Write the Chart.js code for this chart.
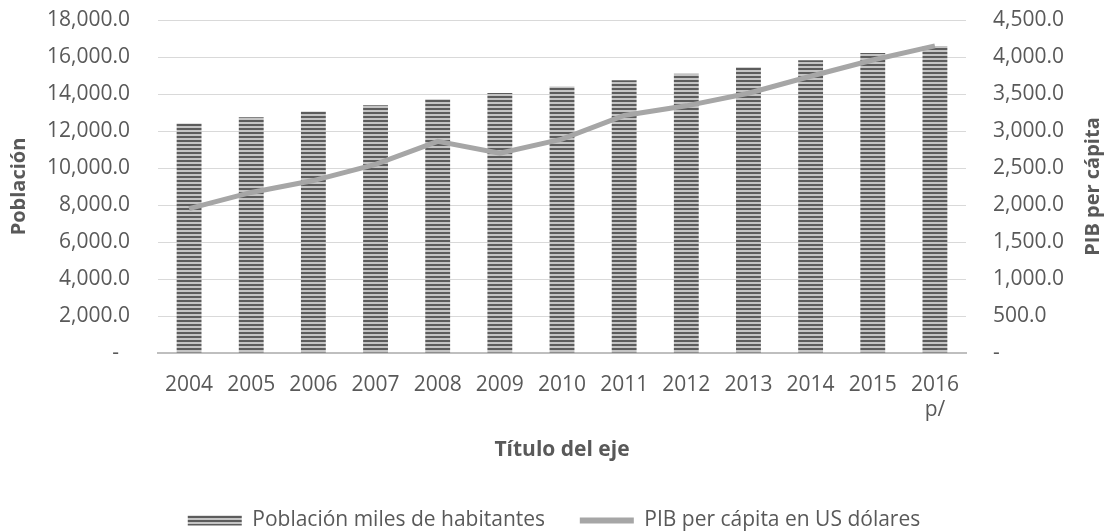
<!DOCTYPE html>
<html>
<head>
<meta charset="utf-8">
<script src="https://cdn.jsdelivr.net/npm/chart.js@4/dist/chart.umd.min.js"></script>
<style>
  html, body { margin: 0; padding: 0; background: #fff; }
  #wrap { width: 1108px; height: 531px; }
</style>
</head>
<body>
<div id="wrap"><canvas id="chart" width="1108" height="531"></canvas></div>
<script>
  // Años (el último es preliminar)
  const YEARS = ['2004', '2005', '2006', '2007', '2008', '2009', '2010', '2011', '2012', '2013', '2014', '2015', ['2016', 'p/']];

  // Población, miles de habitantes (eje izquierdo)
  const POBLACION = [12410, 12740, 13060, 13390, 13720, 14050, 14400, 14750, 15100, 15450, 15820, 16210, 16590];

  // PIB per cápita en US dólares (eje derecho)
  const PIB_PC = [1950, 2170, 2330, 2550, 2860, 2700, 2890, 3210, 3340, 3510, 3740, 3960, 4150];

  const TEXT = '#595959';
  const FONT = "'Open Sans', sans-serif";
  const LINE_GRAY = '#a6a6a6';

  // striped fill used by the population bars
  function stripes() {
    const c = document.createElement('canvas');
    c.width = 4; c.height = 4;
    const g = c.getContext('2d');
    g.fillStyle = '#c4c4c4';
    g.fillRect(0, 0, 4, 4);
    g.fillStyle = '#5c5c5c';
    g.fillRect(0, 0, 4, 2);
    return g.createPattern(c, 'repeat');
  }
  const STRIPES = stripes();

  const fmt = v => v.toLocaleString('en-US', { minimumFractionDigits: 1, maximumFractionDigits: 1 });

  // right axis title reads bottom-to-top, like the left one
  const rightTitle = {
    id: 'rightTitle',
    afterDraw(chart) {
      const s = chart.scales.y1;
      const ctx = chart.ctx;
      ctx.save();
      ctx.translate(s.right - 15, (chart.chartArea.top + chart.chartArea.bottom) / 2);
      ctx.rotate(-Math.PI / 2);
      ctx.font = 'bold 20px ' + FONT;
      ctx.fillStyle = TEXT;
      ctx.textAlign = 'center';
      ctx.textBaseline = 'middle';
      ctx.fillText('PIB per cápita', 0, 0);
      ctx.restore();
    }
  };

  // push the legend down towards the bottom edge
  const legendDown = {
    id: 'legendDown',
    afterLayout(chart) {
      chart.legend.top += 10;
      chart.legend.bottom += 10;
    }
  };

  const noPad = s => { s.paddingTop = 0; s.paddingBottom = 0; };

  new Chart(document.getElementById('chart'), {
    data: {
      labels: YEARS,
      datasets: [
        {
          type: 'line',
          label: 'PIB per cápita en US dólares',
          data: PIB_PC,
          yAxisID: 'y1',
          borderColor: LINE_GRAY,
          borderWidth: 5,
          pointRadius: 0,
          tension: 0,
          order: 1
        },
        {
          type: 'bar',
          label: 'Población miles de habitantes',
          data: POBLACION,
          yAxisID: 'y',
          backgroundColor: STRIPES,
          borderWidth: 0,
          categoryPercentage: 1,
          barPercentage: 0.4,
          order: 2
        }
      ]
    },
    options: {
      responsive: false,
      animation: false,
      layout: { padding: { top: 20, bottom: 0, left: 0, right: 0 } },
      plugins: {
        tooltip: { enabled: false },
        legend: {
          position: 'bottom',
          labels: {
            usePointStyle: true,
            pointStyleWidth: 54,
            boxHeight: 10,
            padding: 2,
            color: TEXT,
            font: { family: FONT, size: 21 },
            generateLabels(chart) {
              const ds = chart.data.datasets;
              // trailing spaces widen the gap between the two items
              return [
                { text: ds[1].label + '      ', fillStyle: STRIPES, strokeStyle: STRIPES, lineWidth: 0, pointStyle: 'rect', fontColor: TEXT, datasetIndex: 1 },
                { text: ds[0].label, fillStyle: LINE_GRAY, strokeStyle: LINE_GRAY, lineWidth: 6, pointStyle: 'line', fontColor: TEXT, datasetIndex: 0 }
              ];
            }
          }
        }
      },
      scales: {
        x: {
          grid: { display: false },
          border: { color: '#bfbfbf', width: 2 },
          ticks: { color: TEXT, font: { family: FONT, size: 21 }, maxRotation: 0, padding: 11 },
          title: { display: true, text: 'Título del eje', color: TEXT, font: { family: FONT, size: 21, weight: 'bold' }, padding: { top: 0, bottom: 35 } },
          afterFit(s) { s.height = 145; }
        },
        y: {
          position: 'left',
          min: 0, max: 18000,
          grid: { color: '#d9d9d9', lineWidth: 1, drawTicks: false },
          border: { display: false },
          ticks: { stepSize: 2000, color: TEXT, font: { family: FONT, size: 21 }, padding: 28, callback: v => v === 0 ? '-  ' : fmt(v) },
          title: { display: true, text: 'Población', color: TEXT, font: { family: FONT, size: 20, weight: 'bold' }, padding: { top: 7, bottom: 0 } },
          afterFit(s) { s.width = 158; noPad(s); }
        },
        y1: {
          position: 'right',
          min: 0, max: 4500,
          grid: { display: false, drawTicks: false },
          border: { display: false },
          ticks: { stepSize: 500, color: TEXT, font: { family: FONT, size: 21 }, padding: 27, callback: v => v === 0 ? '-' : fmt(v) },
          afterFit(s) { s.width = 142; noPad(s); }
        }
      }
    },
    plugins: [rightTitle, legendDown]
  });
</script>
</body>
</html>
